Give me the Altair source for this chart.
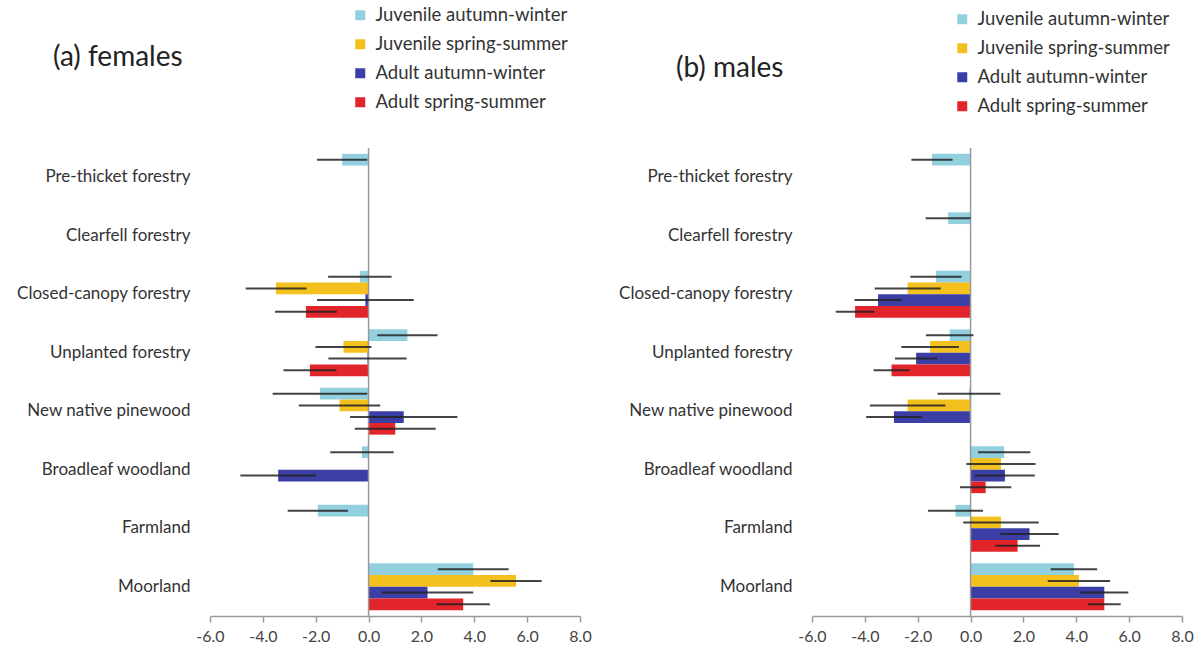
import altair as alt
import pandas as pd

categories = ["Pre-thicket forestry", "Clearfell forestry", "Closed-canopy forestry",
              "Unplanted forestry", "New native pinewood", "Broadleaf woodland",
              "Farmland", "Moorland"]
series = ["Juvenile autumn-winter", "Juvenile spring-summer",
          "Adult autumn-winter", "Adult spring-summer"]
colors = ["#93d0df", "#f4c01e", "#3a3ea5", "#e2252b"]
tick_values = [-6, -4, -2, 0, 2, 4, 6, 8]

# (a) females: mean values and half-width of error bars (None = no data)
f_juv_aw = [-1.0, None, -0.33, 1.47, -1.84, -0.25, -1.92, 3.96]
f_juv_aw_err = [0.95, None, 1.2, 1.14, 1.79, 1.2, 1.14, 1.34]
f_juv_ss = [None, None, -3.5, -0.95, -1.10, None, None, 5.58]
f_juv_ss_err = [None, None, 1.15, 1.06, 1.54, None, None, 0.97]
f_ad_aw = [None, None, -0.12, -0.04, 1.33, -3.42, None, 2.23]
f_ad_aw_err = [None, None, 1.83, 1.48, 2.03, 1.43, None, 1.73]
f_ad_ss = [None, None, -2.37, -2.22, 1.01, None, None, 3.58]
f_ad_ss_err = [None, None, 1.17, 1.0, 1.53, None, None, 1.01]

# (b) males
m_juv_aw = [-1.46, -0.85, -1.31, -0.79, -0.06, 1.27, -0.57, 3.91]
m_juv_aw_err = [0.78, 0.85, 0.97, 0.9, 1.19, 0.99, 1.04, 0.88]
m_juv_ss = [None, None, -2.38, -1.53, -2.38, 1.15, 1.15, 4.10]
m_juv_ss_err = [None, None, 1.25, 1.09, 1.43, 1.31, 1.43, 1.18]
m_ad_aw = [None, None, -3.5, -2.06, -2.9, 1.30, 2.23, 5.06]
m_ad_aw_err = [None, None, 0.89, 0.8, 1.05, 1.13, 1.1, 0.91]
m_ad_ss = [None, None, -4.37, -2.99, None, 0.57, 1.78, 5.06]
m_ad_ss_err = [None, None, 0.73, 0.68, None, 0.97, 0.85, 0.62]

panel_titles = ["(a) females", "(b) males"]

FONT = "Lato"


def build_df(vals, errs):
    rows = []
    for s, vl, el in zip(series, vals, errs):
        for c, v, e in zip(categories, vl, el):
            if v is None:
                continue
            rows.append({"category": c, "series": s, "value": v,
                         "lo": v - e, "hi": v + e})
    return pd.DataFrame(rows)


def panel(vals, errs, title, title_dx, title_dy, legend_y):
    df = build_df(vals, errs)
    y = alt.Y("category:N", sort=categories,
              scale=alt.Scale(domain=categories, paddingInner=0.2, paddingOuter=0.1),
              axis=alt.Axis(title=None, domain=False, ticks=False, labelPadding=20,
                            labelFontSize=17, labelColor="#333333", labelFont=FONT))
    yoff = alt.YOffset("series:N", sort=series,
                       scale=alt.Scale(domain=series, paddingInner=0, paddingOuter=0))
    x = alt.X("value:Q", stack=None,
              scale=alt.Scale(domain=[-6, 8], nice=False, zero=False),
              axis=alt.Axis(title=None, values=tick_values, format=".1f", grid=False,
                            labelFlush=False,
                            labelExpr="replace(datum.label, '\u2212', '-')",
                            domainColor="#9a9a9a", domainWidth=1.5, tickColor="#9a9a9a",
                            tickWidth=1.5, tickSize=6, labelFontSize=16, labelFont=FONT,
                            labelColor="#444444", labelPadding=6))
    color = alt.Color("series:N", sort=series,
                      scale=alt.Scale(domain=series, range=colors),
                      legend=alt.Legend(title=None, orient="none", legendX=141,
                                        legendY=legend_y, symbolType="square",
                                        symbolSize=100, symbolStrokeWidth=0,
                                        labelFontSize=18.5, labelFont=FONT,
                                        labelLimit=400,
                                        labelColor="#333333", rowPadding=10,
                                        labelOffset=6))
    bars = alt.Chart(df).mark_bar().encode(x=x, y=y, yOffset=yoff, color=color)
    zero = alt.Chart(pd.DataFrame({"z": [0]})).mark_rule(
        color="#9a9a9a", strokeWidth=1.5).encode(x="z:Q")
    err = alt.Chart(df).mark_rule(color="#222222", strokeWidth=2, opacity=0.85).encode(
        x="lo:Q", x2="hi:Q", y=y, yOffset=yoff)
    ttl = alt.Chart(pd.DataFrame({"t": [title]})).mark_text(
        align="left", baseline="middle", fontSize=28, font=FONT, color="#222222"
    ).encode(text="t:N", x=alt.value(title_dx), y=alt.value(title_dy))
    return alt.layer(bars, zero, err, ttl).properties(width=370, height=468)


left = panel([f_juv_aw, f_juv_ss, f_ad_aw, f_ad_ss],
             [f_juv_aw_err, f_juv_ss_err, f_ad_aw_err, f_ad_ss_err],
             panel_titles[0], -157, -90, -142)
right = panel([m_juv_aw, m_juv_ss, m_ad_aw, m_ad_ss],
              [m_juv_aw_err, m_juv_ss_err, m_ad_aw_err, m_ad_ss_err],
              panel_titles[1], -136, -79, -138)

chart = alt.hconcat(left, right, spacing=232, bounds="flush").resolve_scale(
    color="independent").properties(
    padding={"left": 16, "top": 6, "right": 5, "bottom": 5},
    background="white").configure_view(stroke=None)

chart.save("out.html", embed_options={"renderer": "svg", "actions": False})
